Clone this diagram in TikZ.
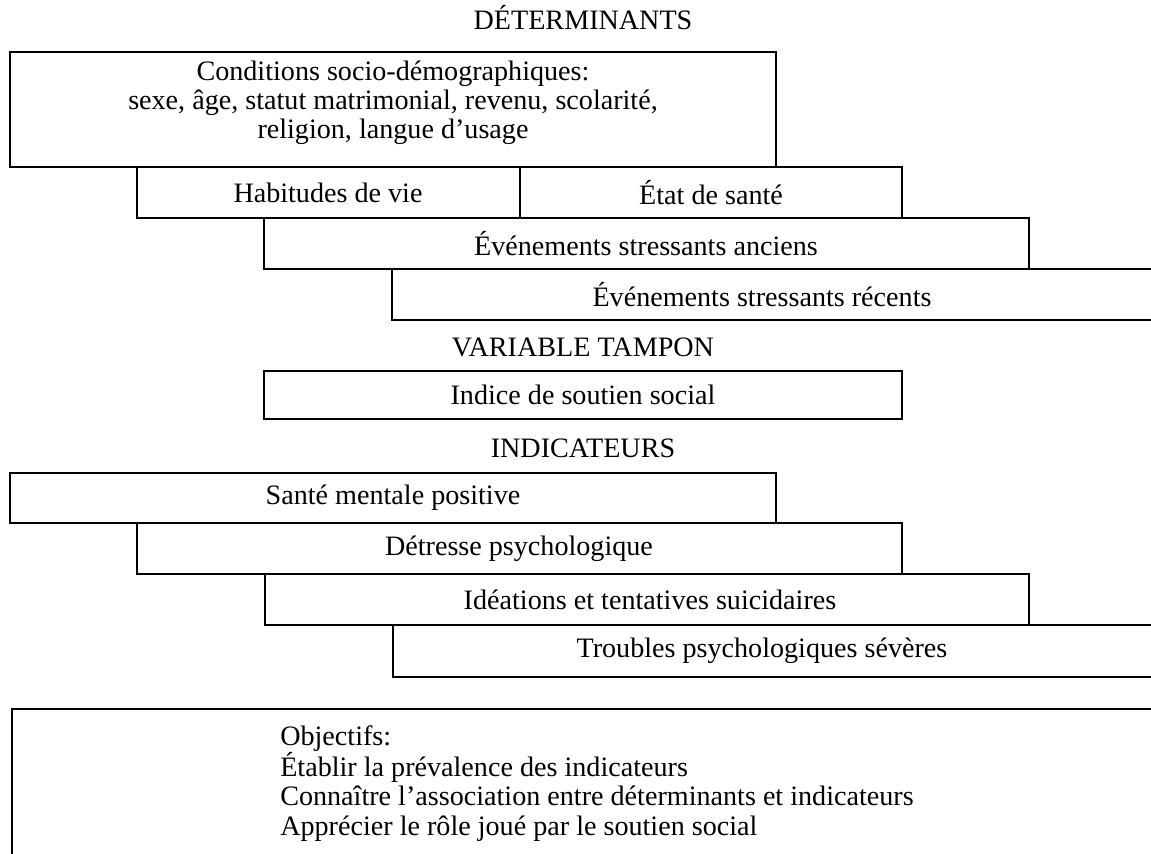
\documentclass[tikz,border=0pt]{standalone}
\usepackage{fontspec}
\setmainfont{Liberation Serif}
\begin{document}
\begin{tikzpicture}
			[x=0.025cm,y=-0.025cm,
			box/.style={draw,line width=1.2pt},
			lbl/.style={font=\fontsize{20}{20.6}\selectfont,inner sep=0pt,align=center},
			list/.style={font=\fontsize{20}{20.8}\selectfont,inner sep=0pt,align=left,anchor=north west}]
			\useasboundingbox (0,0) rectangle (1151,854);

			% determinants
			\node[lbl] (det) at (583,18) {DÉTERMINANTS};
			\draw[box] (10,52) rectangle (776,167);
			\draw[box] (137,167) rectangle (520,218);
			\draw[box] (520,167) rectangle (902,218);
			\draw[box] (264,218) rectangle (1029,269);
			\draw[box] (1160,269) -- (392,269) -- (392,320) -- (1160,320);
			\node[lbl] (cond) at (393,103) {Conditions socio-démographiques:\\sexe, âge, statut matrimonial, revenu, scolarité,\\religion, langue d’usage};
			\node[lbl] (habit) at (328,193) {Habitudes de vie};
			\node[lbl] (etat) at (711,193) {État de santé};
			\node[lbl] (anciens) at (646,244) {Événements stressants anciens};
			\node[lbl] (recents) at (762,295) {Événements stressants récents};

			% variable tampon
			\node[lbl] (tampon) at (583,347) {VARIABLE TAMPON};
			\draw[box] (264,371) rectangle (902,419);
			\node[lbl] (soutien) at (583,395) {Indice de soutien social};

			% indicateurs
			\node[lbl] (ind) at (583,448) {INDICATEURS};
			\draw[box] (10,473) rectangle (776,523);
			\draw[box] (137,523) rectangle (902,574);
			\draw[box] (265,574) rectangle (1029,625);
			\draw[box] (1160,625) -- (393,625) -- (393,677) -- (1160,677);
			\node[lbl] (sante) at (393,498) {Santé mentale positive};
			\node[lbl] (detresse) at (519,549) {Détresse psychologique};
			\node[lbl] (ideations) at (650,600) {Idéations et tentatives suicidaires};
			\node[lbl] (troubles) at (762,651) {Troubles psychologiques sévères};

			% objectifs
			\draw[box] (1160,709) -- (12,709) -- (12,860);
			\node[list] (obj) at (280,725) {Objectifs:\\Établir la prévalence des indicateurs\\Connaître l’association entre déterminants et indicateurs\\Apprécier le rôle joué par le soutien social};
		\end{tikzpicture}
\end{document}
